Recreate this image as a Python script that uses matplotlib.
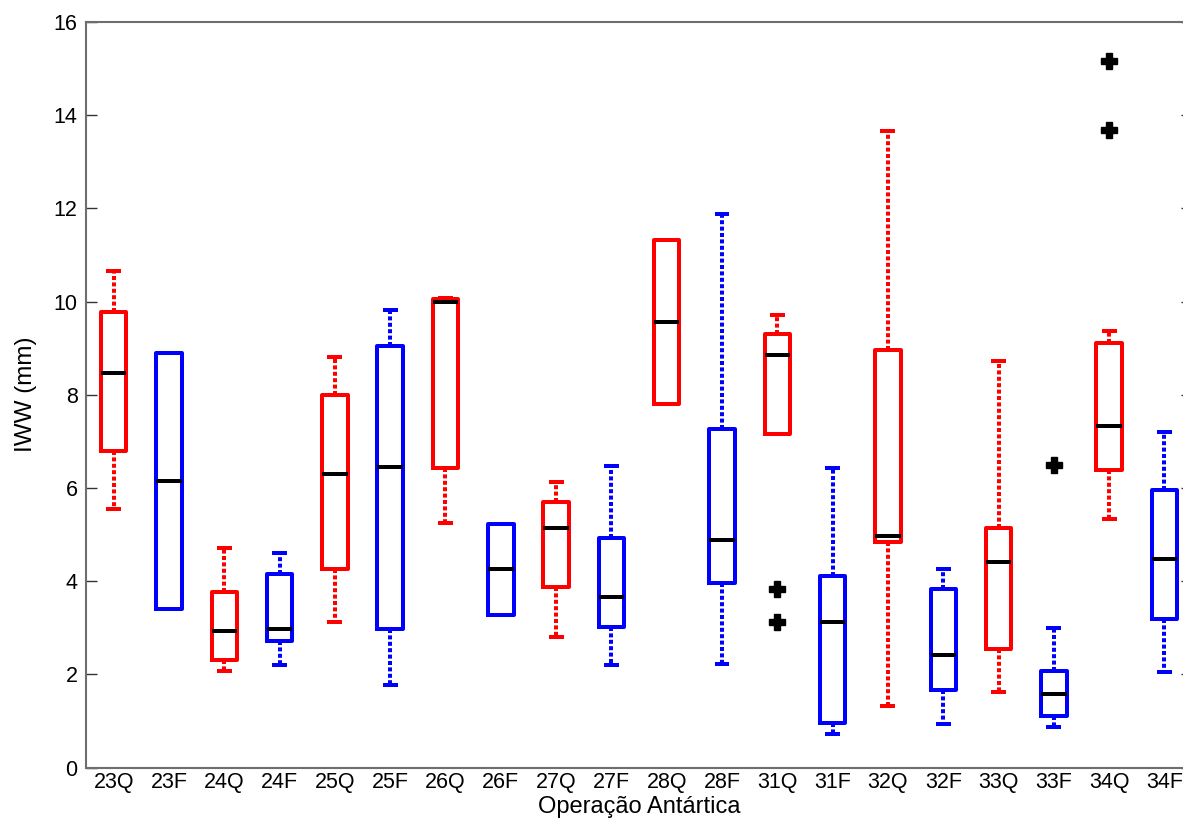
import numpy as np
import matplotlib
matplotlib.use("Agg")
import matplotlib.pyplot as plt

plt.rcParams['font.family'] = ['Liberation Sans', 'DejaVu Sans']

# box statistics (IWW, mm)
labels = ['23Q', '23F', '24Q', '24F', '25Q', '25F', '26Q', '26F', '27Q', '27F',
          '28Q', '28F', '31Q', '31F', '32Q', '32F', '33Q', '33F', '34Q', '34F']
whis_hi = [10.65, 8.90, 4.70, 4.60, 8.80, 9.82, 10.07, 5.23, 6.12, 6.48,
           11.33, 11.88, 9.70, 6.42, 13.65, 4.25, 8.72, 3.00, 9.37, 7.20]
q3 = [9.78, 8.90, 3.77, 4.15, 8.00, 9.05, 10.05, 5.23, 5.70, 4.92,
      11.33, 7.27, 9.30, 4.12, 8.95, 3.83, 5.15, 2.08, 9.10, 5.95]
med = [8.47, 6.15, 2.93, 2.97, 6.30, 6.45, 10.00, 4.25, 5.15, 3.65,
       9.57, 4.88, 8.85, 3.13, 4.97, 2.42, 4.40, 1.57, 7.32, 4.48]
q1 = [6.80, 3.40, 2.30, 2.72, 4.27, 2.97, 6.42, 3.27, 3.88, 3.02,
      7.80, 3.95, 7.15, 0.95, 4.85, 1.67, 2.55, 1.10, 6.38, 3.18]
whis_lo = [5.55, 3.40, 2.08, 2.20, 3.12, 1.77, 5.25, 3.27, 2.80, 2.20,
           7.80, 2.23, 7.15, 0.72, 1.32, 0.93, 1.62, 0.87, 5.33, 2.05]
outliers = {12: [3.83, 3.12], 17: [6.50], 18: [15.17, 13.68]}

fig = plt.figure(figsize=(11.83, 8.23), dpi=100)
ax = fig.add_axes([0.0727, 0.0674, 0.935, 0.906])

lw = 4.0 * 72 / 100
for i, lab in enumerate(labels):
    col = 'red' if lab.endswith('Q') else 'blue'
    st = [dict(med=med[i], q1=q1[i], q3=q3[i], whislo=whis_lo[i],
               whishi=whis_hi[i], fliers=outliers.get(i, []), label=lab)]
    ax.bxp(st, positions=[i + 1], widths=0.46, showfliers=True,
           boxprops=dict(color=col, linewidth=lw, solid_joinstyle='round'),
           whiskerprops=dict(color=col, linewidth=lw, linestyle=(0, (1.0, 0.6)),
                             dash_capstyle='butt'),
           capprops=dict(color=col, linewidth=lw, solid_capstyle='butt'),
           capwidths=0.27,
           medianprops=dict(color='black', linewidth=lw, solid_capstyle='butt'),
           flierprops=dict(marker='P', markerfacecolor='black',
                           markeredgecolor='black', markersize=11, linestyle='none'))

ax.set_xlim(0.5, 20.5)
ax.set_ylim(0, 16)
ax.set_xticks(np.arange(1, 21))
ax.set_xticklabels(labels)
ax.set_yticks(np.arange(0, 17, 2))
ax.tick_params(axis='y', direction='in', length=8, width=1, right=True,
               labelsize=15.5, pad=6, color='#333333')
ax.tick_params(axis='x', length=0, labelsize=15.5, pad=3)
for s in ax.spines.values():
    s.set_color('#6e6e6e')
    s.set_linewidth(1.5)

ax.set_xlabel('Operação Antártica', fontsize=17)
ax.xaxis.set_label_coords(0.5, -0.0385)
ax.set_ylabel('IWW (mm)', fontsize=17.5, labelpad=12)

fig.savefig('out.png', dpi=100)
